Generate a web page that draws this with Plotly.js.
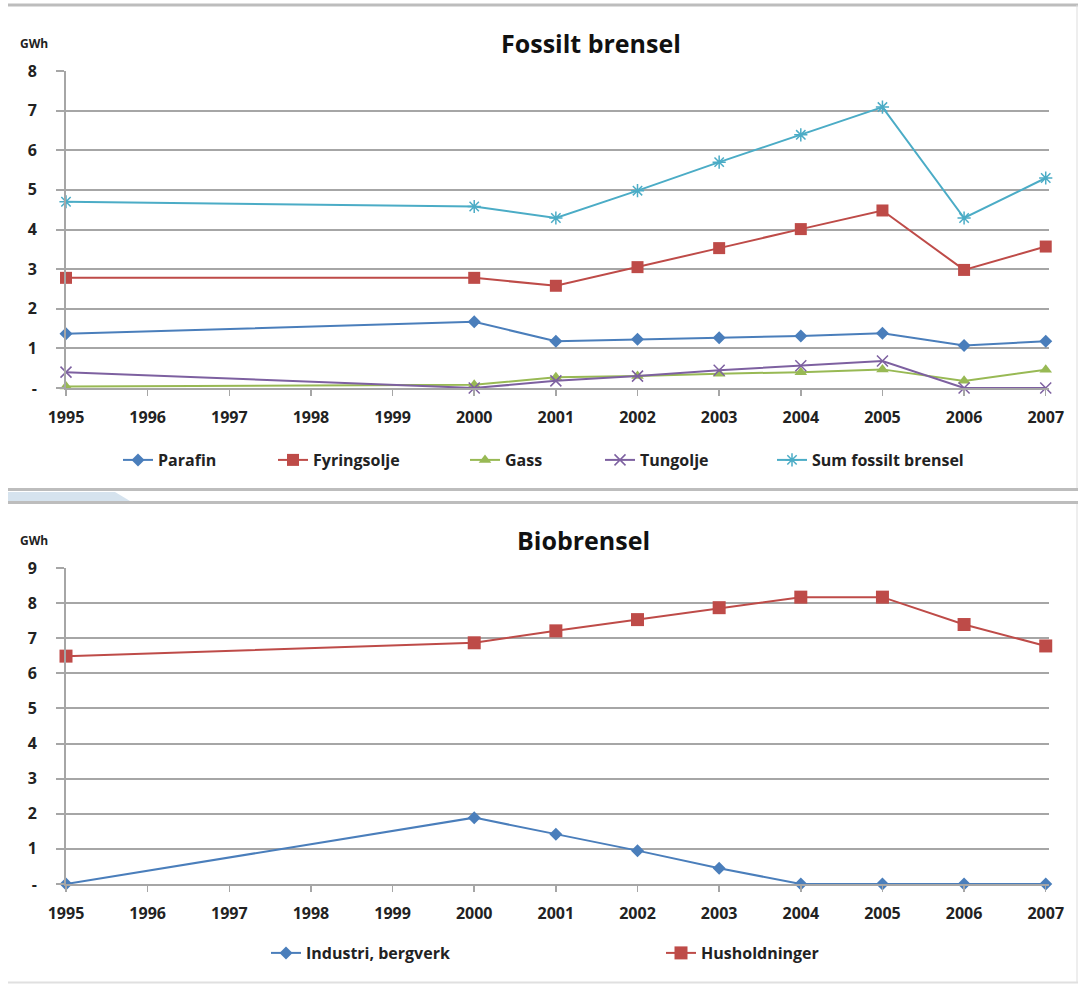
<!DOCTYPE html>
<html>
<head>
<meta charset="utf-8">
<script src="https://cdn.plot.ly/plotly-3.0.1.min.js"></script>
<style>html,body{margin:0;padding:0;background:#fff;}#chart{width:1078px;height:984px;}</style>
</head>
<body>
<div id="chart"></div>
<script>
// ---- data ----
const years = [1995, 2000, 2001, 2002, 2003, 2004, 2005, 2006, 2007];
const yearTicks = [1995, 1996, 1997, 1998, 1999, 2000, 2001, 2002, 2003, 2004, 2005, 2006, 2007];

const parafin      = [1.37, 1.67, 1.18, 1.23, 1.27, 1.31, 1.38, 1.07, 1.18];
const fyringsolje  = [2.78, 2.78, 2.58, 3.05, 3.53, 4.01, 4.48, 2.98, 3.57];
const gass         = [0.04, 0.08, 0.27, 0.30, 0.36, 0.40, 0.47, 0.18, 0.46];
const tungolje     = [0.40, 0.00, 0.18, 0.30, 0.45, 0.56, 0.68, 0.00, 0.00];
const sumFossilt   = [4.70, 4.58, 4.29, 4.98, 5.70, 6.39, 7.09, 4.29, 5.30];

const industri     = [0.00, 1.89, 1.42, 0.95, 0.45, 0.00, 0.00, 0.00, 0.00];
const husholdninger= [6.49, 6.87, 7.21, 7.53, 7.87, 8.17, 8.17, 7.39, 6.78];

const fossilTickVals = [0, 1, 2, 3, 4, 5, 6, 7, 8];
const fossilTickText = ['-', '1', '2', '3', '4', '5', '6', '7', '8'];
const bioTickVals = [0, 1, 2, 3, 4, 5, 6, 7, 8, 9];
const bioTickText = ['-', '1', '2', '3', '4', '5', '6', '7', '8', '9'];

// ---- helpers ----
const W = 1078, H = 984;
const px = x => x / W;
const py = y => 1 - y / H;
const FONT = '"Open Sans", Lato, sans-serif';

function tr(name, y, color, symbol, size, xa, ya, legend, open) {
  return {
    type: 'scatter', mode: 'lines+markers', name: name,
    x: years, y: y, xaxis: xa, yaxis: ya, legend: legend,
    line: {color: color, width: 2},
    marker: {symbol: symbol, size: size, color: color, line: {color: color, width: open ? 1.5 : 0}},
    cliponaxis: false
  };
}

const traces = [
  tr('Parafin', parafin, '#4a7ebb', 'diamond', 10, 'x', 'y', 'legend', false),
  tr('Fyringsolje', fyringsolje, '#be4b48', 'square', 12, 'x', 'y', 'legend2', false),
  tr('Gass', gass, '#98b954', 'triangle-up', 11, 'x', 'y', 'legend3', false),
  tr('Tungolje', tungolje, '#7d60a0', 'x-thin-open', 11, 'x', 'y', 'legend4', true),
  tr('Sum fossilt brensel', sumFossilt, '#4bacc6', 'asterisk-open', 11, 'x', 'y', 'legend5', true),
  tr('Industri, bergverk', industri, '#4a7ebb', 'diamond', 10, 'x2', 'y2', 'legend6', false),
  tr('Husholdninger', husholdninger, '#be4b48', 'square', 13, 'x2', 'y2', 'legend7', false)
];

function xaxisDef(anchor) {
  return {
    anchor: anchor, domain: [px(66), px(1049)], range: [1995, 2007.04],
    tickmode: 'array', tickvals: yearTicks, ticktext: yearTicks.map(String),
    showgrid: false, zeroline: false, showline: true, linecolor: '#a6a6a6', linewidth: 2,
    ticks: 'outside', ticklen: 6, tickcolor: '#a6a6a6', tickwidth: 1.5,
    ticklabelstandoff: 8,
    tickfont: {family: FONT, size: 16, color: '#222', weight: 'bold'}
  };
}
function yaxisDef(anchor, domain, range, vals, text) {
  return {
    anchor: anchor, domain: domain, range: range,
    tickmode: 'array', tickvals: vals, ticktext: text,
    showgrid: true, gridcolor: '#a6a6a6', gridwidth: 2, zeroline: false,
    showline: true, linecolor: '#a6a6a6', linewidth: 2,
    ticks: 'outside', ticklen: 8, tickcolor: '#a6a6a6', tickwidth: 2,
    ticklabelstandoff: 16,
    tickfont: {family: FONT, size: 16, color: '#222', weight: 'bold'}
  };
}
function legendDef(x, y) {
  return {x: px(x), y: py(y), xanchor: 'left', yanchor: 'middle', orientation: 'h',
    bgcolor: 'rgba(0,0,0,0)', font: {family: FONT, size: 16, color: '#222', weight: 'bold'}, itemwidth: 30,
    tracegroupgap: 0};
}

const lineCol = '#bdbdbd';
const shapes = [
  // top frame
  {type: 'line', xref: 'paper', yref: 'paper', x0: px(8), x1: 1, y0: py(5), y1: py(5), line: {color: lineCol, width: 3}},
  {type: 'line', xref: 'paper', yref: 'paper', x0: px(1077), x1: px(1077), y0: py(5), y1: py(488), line: {color: '#dddddd', width: 1}},
  // separator
  {type: 'line', xref: 'paper', yref: 'paper', x0: px(8), x1: 1, y0: py(489.5), y1: py(489.5), line: {color: lineCol, width: 3}},
  {type: 'path', xref: 'paper', yref: 'paper',
   path: `M ${px(8)} ${py(492)} L ${px(115)} ${py(492)} L ${px(130)} ${py(501)} L ${px(8)} ${py(501)} Z`,
   fillcolor: '#d6e3ee', line: {width: 0}},
  {type: 'line', xref: 'paper', yref: 'paper', x0: px(8), x1: 1, y0: py(502.5), y1: py(502.5), line: {color: lineCol, width: 3}},
  {type: 'line', xref: 'paper', yref: 'paper', x0: px(1077), x1: px(1077), y0: py(504), y1: py(982), line: {color: '#dddddd', width: 1}},
  {type: 'line', xref: 'paper', yref: 'paper', x0: px(8), x1: 1, y0: py(982.5), y1: py(982.5), line: {color: '#e0e0e0', width: 2}}
];

const annotations = [
  {text: '<b>Fossilt brensel</b>', xref: 'paper', yref: 'paper', x: px(591), y: py(43), xanchor: 'center', yanchor: 'middle', showarrow: false,
   font: {family: FONT, size: 25, color: '#111'}},
  {text: '<b>GWh</b>', xref: 'paper', yref: 'paper', x: px(18), y: py(43), xanchor: 'left', yanchor: 'middle', showarrow: false,
   font: {family: FONT, size: 12, color: '#222'}},
  {text: '<b>Biobrensel</b>', xref: 'paper', yref: 'paper', x: px(583), y: py(540), xanchor: 'center', yanchor: 'middle', showarrow: false,
   font: {family: FONT, size: 25, color: '#111'}},
  {text: '<b>GWh</b>', xref: 'paper', yref: 'paper', x: px(18), y: py(540), xanchor: 'left', yanchor: 'middle', showarrow: false,
   font: {family: FONT, size: 12, color: '#222'}}
];

const layout = {
  width: W, height: H, margin: {l: 0, r: 0, t: 0, b: 0},
  paper_bgcolor: '#fff', plot_bgcolor: '#fff',
  xaxis: xaxisDef('y'),
  yaxis: yaxisDef('x', [py(388), py(71)], [0, 8], fossilTickVals, fossilTickText),
  xaxis2: xaxisDef('y2'),
  yaxis2: yaxisDef('x2', [py(884), py(568)], [0, 9], bioTickVals, bioTickText),
  showlegend: true,
  legend: legendDef(118, 460),
  legend2: legendDef(273, 460),
  legend3: legendDef(465, 460),
  legend4: legendDef(600, 460),
  legend5: legendDef(772, 460),
  legend6: legendDef(266, 953),
  legend7: legendDef(661, 953),
  shapes: shapes,
  annotations: annotations
};

Plotly.newPlot('chart', traces, layout, {staticPlot: true, displayModeBar: false});
</script>
</body>
</html>
